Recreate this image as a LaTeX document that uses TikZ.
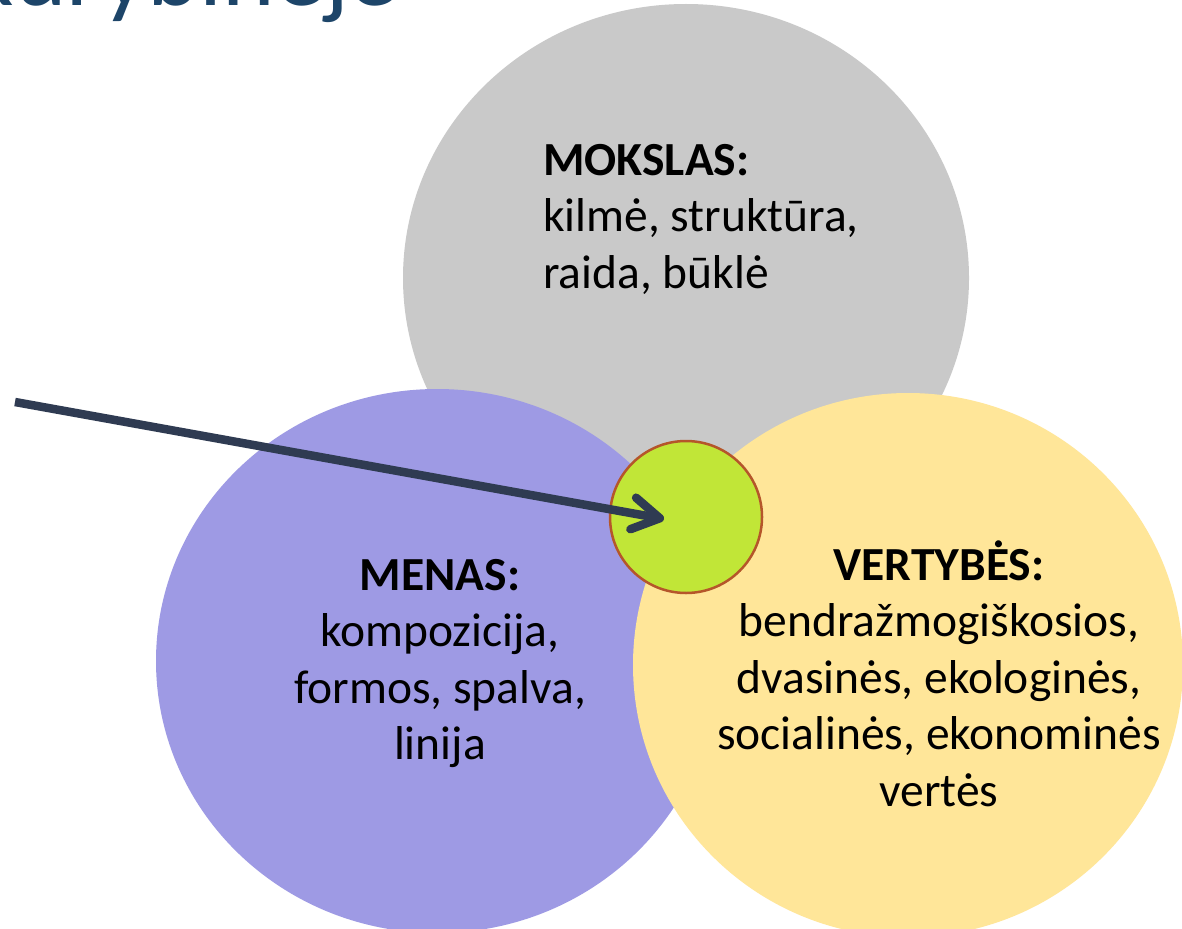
\documentclass[tikz,border=0pt]{standalone}
\usepackage{fontspec}
\setmainfont{Carlito}
\usetikzlibrary{arrows.meta}
\definecolor{graycirc}{HTML}{C9C9C9}
\definecolor{purplecirc}{HTML}{9E9AE4}
\definecolor{yellowcirc}{HTML}{FFE699}
\definecolor{greencirc}{HTML}{C1E637}
\definecolor{greenedge}{HTML}{B5562A}
\definecolor{arrowcol}{HTML}{2F3B52}
\definecolor{titlecol}{HTML}{1D4569}
\tikzset{
  blocktext/.style={inner sep=0pt, font=\fontsize{47.5}{56.5}\selectfont, text=black},
  pointer/.style={line width=8.5pt, color=arrowcol, -{Straight Barb[length=27pt,width=32pt,round]}}
}
\begin{document}
\begin{tikzpicture}[x=1pt,y=-1pt]
\useasboundingbox (0,0) rectangle (1182,928);
\path[clip] (0,0) rectangle (1182,928);
\fill[white] (0,0) rectangle (1182,928);
% title (cut off at top)
\node[anchor=base east, inner sep=0pt, text=titlecol, font=\fontsize{100}{112}\selectfont] (title) at (399,6) {kūrybinėje};
% circles
\coordinate (graycenter) at (686,278);
\coordinate (purplecenter) at (437,661);
\coordinate (yellowcenter) at (908,665);
\fill[graycirc] (graycenter) ellipse [x radius=283, y radius=274];
\fill[purplecirc] (purplecenter) ellipse [x radius=281, y radius=272];
\fill[yellowcirc] (yellowcenter) ellipse [x radius=275, y radius=272];
\node[circle, minimum size=152pt, inner sep=0pt, fill=greencirc, draw=greenedge, line width=2.5pt] (center) at (686,517) {};
% texts
\node[blocktext, anchor=north west, align=left] (mokslas) at (543,{175-39.55}) {\strut\textbf{MOKSLAS:}\\kilmė, struktūra,\\raida, būklė};
\node[blocktext, anchor=north, align=center] (menas) at (440,{590-39.55}) {\strut\textbf{MENAS:}\\kompozicija,\\formos, spalva,\\linija};
\node[blocktext, anchor=north, align=center] (vertybes) at (939,{580-39.55}) {\strut\textbf{VERTYBĖS:}\\bendražmogiškosios,\\dvasinės, ekologinės,\\socialinės, ekonominės\\vertės};
% arrow
\coordinate (arrowstart) at (15,402);
\coordinate (arrowend) at (664,519);
\draw[pointer] (arrowstart) -- (arrowend);
\end{tikzpicture}
\end{document}
